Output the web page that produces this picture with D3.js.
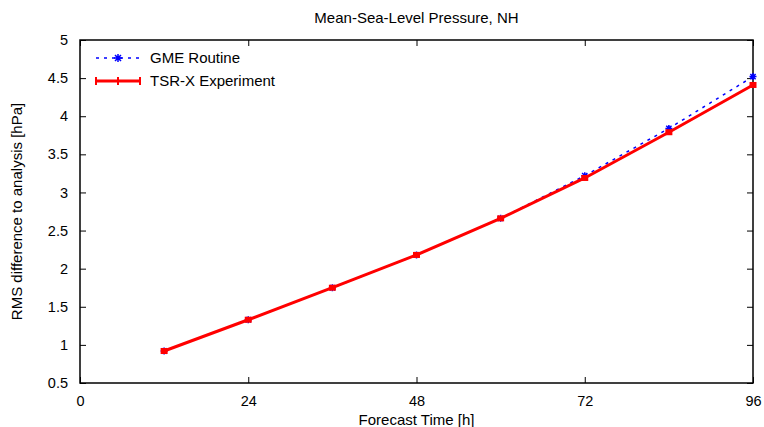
<!DOCTYPE html>
<html>
<head>
<meta charset="utf-8">
<script src="https://cdn.jsdelivr.net/npm/d3@7"></script>
<style>
  html, body { margin: 0; padding: 0; background: #fff; }
  svg { display: block; font-family: "Liberation Sans", Arial, Helvetica, sans-serif; }
</style>
</head>
<body>
<svg id="chart" width="764" height="427"></svg>
<script>
// Forecast lead times (hours)
const leadTimes = [12, 24, 36, 48, 60, 72, 84, 96];
// RMS difference of mean-sea-level pressure to analysis [hPa]
const gmeRoutine   = [0.92, 1.33, 1.75, 2.18, 2.66, 3.22, 3.84, 4.52];
const tsrExperiment = [0.92, 1.33, 1.75, 2.18, 2.66, 3.19, 3.79, 4.41];
// Axis ticks
const xTicks = [0, 24, 48, 72, 96];
const yTicks = [0.5, 1, 1.5, 2, 2.5, 3, 3.5, 4, 4.5, 5];
const seriesNames = ["GME Routine", "TSR-X Experiment"];

const svg = d3.select("#chart");
const margin = { left: 80, right: 11, top: 40, bottom: 44 };
const W = 764, H = 427;
const x0 = margin.left, x1 = W - margin.right;
const y0 = H - margin.bottom, y1 = margin.top;

const x = d3.scaleLinear().domain([0, 96]).range([x0, x1]);
const y = d3.scaleLinear().domain([0.5, 5]).range([y0, y1]);

const tickLen = 6;
const labelSize = 15;

// Title
svg.append("text")
  .attr("x", (x0 + x1) / 2).attr("y", 23)
  .attr("text-anchor", "middle").attr("font-size", 15)
  .text("Mean-Sea-Level Pressure, NH");

// Axes with inward ticks (bottom/left labelled, top/right mirrored)
const gx = svg.append("g").attr("transform", `translate(0,${y0})`)
  .call(d3.axisBottom(x).tickValues(xTicks).tickSize(-tickLen).tickPadding(11).tickFormat(d3.format("d")));
const gxTop = svg.append("g").attr("transform", `translate(0,${y1})`)
  .call(d3.axisTop(x).tickValues(xTicks).tickSize(-tickLen).tickFormat(""));
const gy = svg.append("g").attr("transform", `translate(${x0},0)`)
  .call(d3.axisLeft(y).tickValues(yTicks).tickSize(-tickLen).tickPadding(12).tickFormat(d => d3.format("")(d)));
const gyR = svg.append("g").attr("transform", `translate(${x1},0)`)
  .call(d3.axisRight(y).tickValues(yTicks).tickSize(-tickLen).tickFormat(""));

[gx, gxTop, gy, gyR].forEach(g => {
  g.select(".domain").remove();
  g.selectAll(".tick line").attr("stroke", "#000").attr("stroke-width", 1);
  g.selectAll(".tick text").attr("font-size", 14.5).attr("fill", "#000")
    .attr("font-family", "Liberation Sans, Arial, sans-serif");
});
gx.selectAll(".tick text").attr("dy", "0.8em");

// Frame
svg.append("rect")
  .attr("x", x0).attr("y", y1).attr("width", x1 - x0).attr("height", y0 - y1)
  .attr("fill", "none").attr("stroke", "#000").attr("stroke-width", 1.5);

// Axis titles
svg.append("text")
  .attr("x", (x0 + x1) / 2).attr("y", 425)
  .attr("text-anchor", "middle").attr("font-size", labelSize)
  .text("Forecast Time [h]");
svg.append("text")
  .attr("transform", `translate(22,${(y0 + y1) / 2}) rotate(-90)`)
  .attr("text-anchor", "middle").attr("font-size", labelSize)
  .text("RMS difference to analysis [hPa]");

const line = d3.line().x(d => x(d[0])).y(d => y(d[1]));
const blueData = leadTimes.map((t, i) => [t, gmeRoutine[i]]);
const redData = leadTimes.map((t, i) => [t, tsrExperiment[i]]);

// Asterisk point symbol
function asterisk(g, cx, cy, r, color) {
  const p = d3.path();
  p.moveTo(cx - r, cy); p.lineTo(cx + r, cy);
  p.moveTo(cx, cy - r); p.lineTo(cx, cy + r);
  p.moveTo(cx - r * 0.75, cy - r * 0.75); p.lineTo(cx + r * 0.75, cy + r * 0.75);
  p.moveTo(cx - r * 0.75, cy + r * 0.75); p.lineTo(cx + r * 0.75, cy - r * 0.75);
  g.append("path").attr("d", p.toString()).attr("stroke", color).attr("stroke-width", 1.5).attr("fill", "none");
}

// GME Routine: blue dashed with asterisks
svg.append("path").datum(blueData)
  .attr("d", line).attr("fill", "none")
  .attr("stroke", "#0000ff").attr("stroke-width", 1.5).attr("stroke-dasharray", "3,5");
const gB = svg.append("g");
blueData.forEach(d => asterisk(gB, x(d[0]), y(d[1]), 3.5, "#0000ff"));

// TSR-X Experiment: thick red with small capped bars
svg.append("path").datum(redData)
  .attr("d", line).attr("fill", "none")
  .attr("stroke", "#ff0000").attr("stroke-width", 3);
svg.append("g").selectAll("rect").data(redData).join("rect")
  .attr("x", d => x(d[0]) - 3.5).attr("y", d => y(d[1]) - 3)
  .attr("width", 7).attr("height", 6).attr("fill", "#ff0000");

// Legend
const lg = svg.append("g");
const lx0 = 96, lx1 = 140, ly1 = 58, ly2 = 81;
lg.append("line").attr("x1", lx0).attr("x2", lx1).attr("y1", ly1).attr("y2", ly1)
  .attr("stroke", "#0000ff").attr("stroke-width", 1.5).attr("stroke-dasharray", "3,5");
asterisk(lg, (lx0 + lx1) / 2, ly1, 4, "#0000ff");
lg.append("text").attr("x", 150).attr("y", ly1 + 5).attr("font-size", labelSize).text(seriesNames[0]);

lg.append("line").attr("x1", lx0).attr("x2", lx1).attr("y1", ly2).attr("y2", ly2)
  .attr("stroke", "#ff0000").attr("stroke-width", 3);
[lx0, (lx0 + lx1) / 2, lx1].forEach(px => {
  lg.append("line").attr("x1", px).attr("x2", px).attr("y1", ly2 - 4).attr("y2", ly2 + 4)
    .attr("stroke", "#ff0000").attr("stroke-width", 2);
});
lg.append("text").attr("x", 150).attr("y", ly2 + 5).attr("font-size", labelSize).text(seriesNames[1]);
</script>
</body>
</html>
